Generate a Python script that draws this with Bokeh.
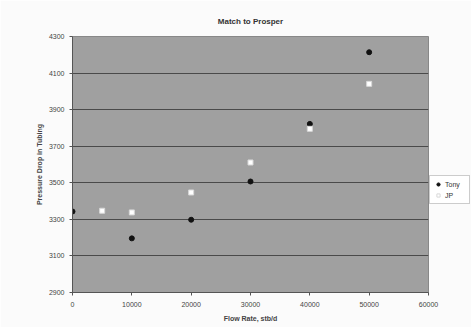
from bokeh.plotting import figure
from bokeh.models import Legend, LegendItem, FixedTicker, Range1d
from bokeh.embed import file_html
from bokeh.resources import INLINE

tony_x = [0, 10000, 20000, 30000, 40000, 50000]
tony_y = [3343, 3196, 3298, 3507, 3822, 4214]
jp_x = [5000, 10000, 20000, 30000, 40000, 50000]
jp_y = [3347, 3338, 3447, 3611, 3795, 4041]
x_ticks = [0, 10000, 20000, 30000, 40000, 50000, 60000]
y_ticks = [2900, 3100, 3300, 3500, 3700, 3900, 4100, 4300]

FONT = "Liberation Sans"

p = figure(frame_width=356, frame_height=256, output_backend="svg", toolbar_location=None,
           x_range=Range1d(0, 60000), y_range=Range1d(2900, 4300),
           min_border_left=72, min_border_right=0, min_border_top=36, min_border_bottom=35,
           title="Match to Prosper")
p.background_fill_color = "#a0a0a0"
p.border_fill_color = "#fbfbfb"
p.outline_line_color = "#888888"

p.title.align = "center"
p.title.text_font = FONT
p.title.text_font_size = "8px"
p.title.text_font_style = "bold"
p.title.text_color = "#333333"
p.title.standoff = 22

p.xgrid.visible = False
p.ygrid.ticker = FixedTicker(ticks=y_ticks)
p.ygrid.grid_line_color = "#4a4a4a"
p.ygrid.grid_line_width = 1

p.xaxis.ticker = FixedTicker(ticks=x_ticks)
p.yaxis.ticker = FixedTicker(ticks=y_ticks)
for ax in (p.xaxis, p.yaxis):
    ax.axis_line_color = "#555555"
    ax.major_tick_line_color = "#555555"
    ax.major_tick_out = 3
    ax.major_tick_in = 0
    ax.minor_tick_line_color = None
    ax.major_label_text_font = FONT
    ax.major_label_text_font_size = "7px"
    ax.major_label_text_color = "#444444"
    ax.axis_label_text_font = FONT
    ax.axis_label_text_font_size = "7px"
    ax.axis_label_text_font_style = "bold"
    ax.axis_label_text_color = "#444444"
p.xaxis.axis_label = "Flow Rate, stb/d"
p.yaxis.axis_label = "Pressure Drop in Tubing"
p.xaxis.major_label_standoff = 6
p.yaxis.major_label_standoff = 5
p.xaxis.axis_label_standoff = 5
p.yaxis.axis_label_standoff = 3

r1 = p.scatter(tony_x, tony_y, marker="circle", size=5, fill_color="#111111", line_color="#111111")
r2 = p.scatter(jp_x, jp_y, marker="square", size=5, fill_color="#ffffff", line_color="#d8d8d8")

legend = Legend(items=[LegendItem(label="Tony", renderers=[r1]), LegendItem(label="JP", renderers=[r2])],
                location=(1, 88))
legend.label_text_font = FONT
legend.label_text_font_size = "7px"
legend.label_text_color = "#333333"
legend.glyph_width = 8
legend.glyph_height = 8
legend.label_height = 8
legend.label_standoff = 3
legend.spacing = 3
legend.padding = 4
legend.margin = 1
legend.border_line_color = "#999999"
legend.background_fill_color = "#ffffff"
p.add_layout(legend, "right")

open("out.html", "w").write(file_html(p, INLINE))
